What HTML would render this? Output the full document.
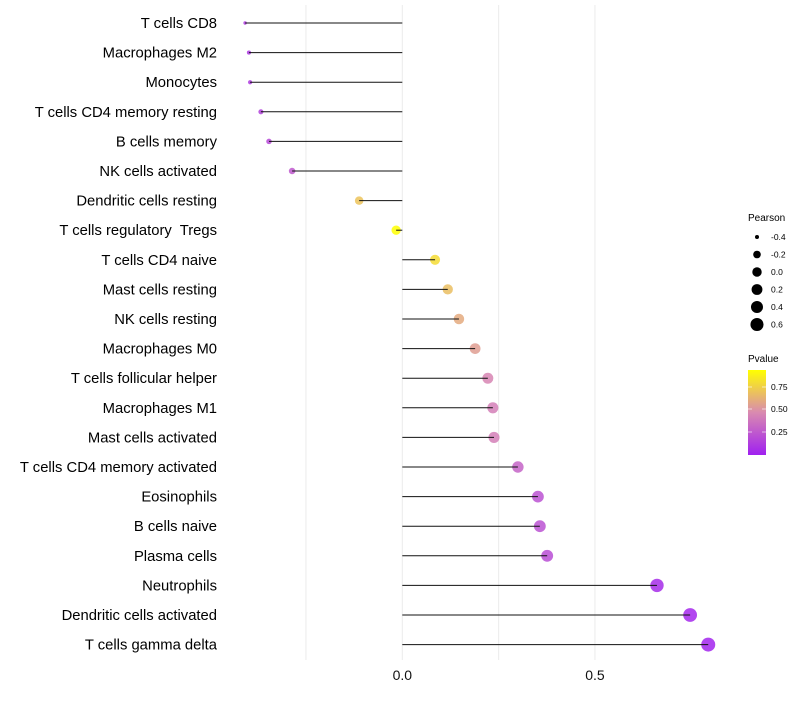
<!DOCTYPE html>
<html><head><meta charset="utf-8"><style>
body{margin:0;background:#fff}
svg{font-family:"Liberation Sans",sans-serif}
</style></head><body>
<svg id="chart" width="800" height="700">
<defs><linearGradient id="pg" x1="0" y1="1" x2="0" y2="0">
<stop offset="0" stop-color="#A020F0"/><stop offset="0.5" stop-color="#D98AB0"/><stop offset="1" stop-color="#FFFF00"/></linearGradient></defs>
<g id="grid"></g><g id="marks"></g><g id="labels"></g>
<g id="sleg"><text x="748" y="221" font-size="10">Pearson</text></g>
<g>
<text x="748" y="362" font-size="10">Pvalue</text>
<rect x="748" y="370" width="18" height="85" fill="url(#pg)"/>
<line x1="748" x2="752" y1="387" y2="387" stroke="#fff" stroke-opacity="0.6"/><line x1="762" x2="766" y1="387" y2="387" stroke="#fff" stroke-opacity="0.6"/>
<line x1="748" x2="752" y1="409" y2="409" stroke="#fff" stroke-opacity="0.6"/><line x1="762" x2="766" y1="409" y2="409" stroke="#fff" stroke-opacity="0.6"/>
<line x1="748" x2="752" y1="432" y2="432" stroke="#fff" stroke-opacity="0.6"/><line x1="762" x2="766" y1="432" y2="432" stroke="#fff" stroke-opacity="0.6"/>
<text x="771" y="390" font-size="8.5">0.75</text>
<text x="771" y="412" font-size="8.5">0.50</text>
<text x="771" y="435" font-size="8.5">0.25</text>
</g>
</svg>
<script>
const categories=["T cells CD8","Macrophages M2","Monocytes","T cells CD4 memory resting","B cells memory","NK cells activated","Dendritic cells resting","T cells regulatory  Tregs","T cells CD4 naive","Mast cells resting","NK cells resting","Macrophages M0","T cells follicular helper","Macrophages M1","Mast cells activated","T cells CD4 memory activated","Eosinophils","B cells naive","Plasma cells","Neutrophils","Dendritic cells activated","T cells gamma delta"];
const pearson=[-0.408,-0.398,-0.395,-0.367,-0.346,-0.286,-0.112,-0.016,0.085,0.118,0.147,0.189,0.222,0.235,0.238,0.300,0.352,0.357,0.376,0.661,0.747,0.794];
const pvalue=[0.12,0.10,0.12,0.15,0.18,0.25,0.70,0.95,0.80,0.68,0.60,0.55,0.45,0.42,0.42,0.30,0.22,0.22,0.20,0.05,0.03,0.02];
const xTicks=[-0.25,0,0.25,0.5];
const xTickLabels=["","0.0","","0.5"];
const sizeLegend=[-0.4,-0.2,0.0,0.2,0.4,0.6];
const NS="http://www.w3.org/2000/svg";
const x=v=>402.3+v*385.3;
const y=i=>23+i*29.6;
const r=v=>1.5+5.5*Math.sqrt(Math.max(0,(v+0.41)/1.2));
function hex(h){return [1,3,5].map(k=>parseInt(h.substr(k,2),16));}
const stops=[[0,hex("#A020F0")],[0.5,hex("#D98AB0")],[1,hex("#FFFF00")]];
function col(p){let t=Math.max(0,Math.min(1,p/0.94));let a=t<=0.5?stops[0]:stops[1],b=t<=0.5?stops[1]:stops[2];let u=(t-a[0])/(b[0]-a[0]);return "rgb("+a[1].map((c,k)=>Math.round(c+(b[1][k]-c)*u)).join(",")+")";}
function mk(tag,attrs,parent){const e=document.createElementNS(NS,tag);for(const k in attrs)e.setAttribute(k,attrs[k]);parent.appendChild(e);return e;}
const grid=document.getElementById("grid"),marks=document.getElementById("marks"),labels=document.getElementById("labels");
xTicks.forEach((t,i)=>{
 const l=mk("line",{x1:x(t),x2:x(t),y1:5,y2:660,stroke:"#ebebeb","stroke-width":1},grid);
 
 
 if(xTickLabels[i]){const tx=mk("text",{x:x(t),y:680,"font-size":14,"text-anchor":"middle",fill:"#111"},labels);tx.textContent=xTickLabels[i];
 
 }
});
categories.forEach((c,i)=>{
 const d=mk("circle",{cx:x(pearson[i]),cy:y(i),r:r(pearson[i]),fill:col(pvalue[i]),"fill-opacity":0.85},marks);
 
 
 const s=mk("line",{x1:x(0),x2:x(pearson[i]),y1:y(i),y2:y(i),stroke:"#111","stroke-width":1},marks);
 
 
 const tx=mk("text",{x:217,y:y(i)+5,"font-size":14.8,"text-anchor":"end",fill:"#000","xml:space":"preserve",style:"white-space:pre"},labels);
 tx.textContent=c;
 
 
});
const sl=document.getElementById("sleg");
sizeLegend.forEach((v,i)=>{
 const cy=237+i*17.5;
 const d=mk("circle",{cx:757,cy:cy,r:r(v),fill:"#000"},sl);
 
 
 const t=mk("text",{x:771,y:cy+3,"font-size":8.5},sl);t.textContent=v.toFixed(1);
 
 
});
</script>
</body></html>
